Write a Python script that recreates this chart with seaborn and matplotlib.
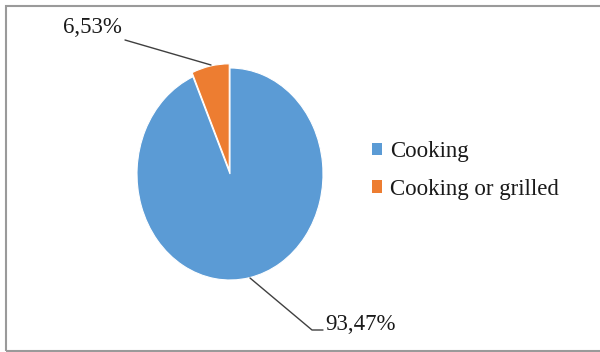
import matplotlib
matplotlib.use("Agg")
import matplotlib.pyplot as plt
import seaborn as sns
from matplotlib.patches import Patch, Rectangle

categories = ["Cooking", "Cooking or grilled"]
values = [93.47, 6.53]
labels = ["93,47%", "6,53%"]
colors = ["#5B9BD5", "#ED7D31"]

sns.set_theme(style="white")
plt.rcParams["font.family"] = ["Liberation Serif", "DejaVu Serif"]

W, H = 600, 352
fig = plt.figure(figsize=(6.0, 3.52), dpi=100)
fig.patch.set_facecolor("white")

# axes geometry (pixels): pie center (230,174), radius 93 px x 106 px
cx, cy, rx, ry = 230, 174, 93, 106
lim = 1.1
aw, ah = 2 * lim * rx, 2 * lim * ry
ax = fig.add_axes([(cx - aw / 2) / W, (H - cy - ah / 2) / H, aw / W, ah / H])
wedges, _ = ax.pie(values, colors=colors, startangle=90, counterclock=False,
                   explode=[0, 0.04],
                   wedgeprops=dict(edgecolor="white", linewidth=0.8))
ax.set_aspect("auto")
ax.set_xlim(-lim, lim)
ax.set_ylim(-lim, lim)
ax.axis("off")

def px2d(x, y):
    return (x - cx) / rx, (cy - y) / ry

# leader lines + labels
# orange
x0, y0 = px2d(211, 65)
x1, y1 = px2d(125, 40)
ax.plot([x0, x1], [y0, y1], color="#404040", lw=1.0, clip_on=False)
tx, ty = px2d(122, 33)
ax.text(tx, ty, labels[1], ha="right", va="baseline", fontsize=16.5, color="#1a1a1a", clip_on=False)
# blue
x0, y0 = px2d(250, 278)
x1, y1 = px2d(312, 330)
x2, y2 = px2d(323, 330)
ax.plot([x0, x1, x2], [y0, y1, y2], color="#404040", lw=1.0, clip_on=False)
tx, ty = px2d(325, 330)
ax.text(tx, ty, labels[0], ha="left", va="baseline", fontsize=16.5, color="#1a1a1a", clip_on=False)

handles = [Patch(facecolor=c, edgecolor="none", label=l) for c, l in zip(colors, categories)]
fig.legend(handles=handles, loc="center left", bbox_to_anchor=(372 / W, 1 - 170.5 / H),
           frameon=False, fontsize=16.5, handlelength=0.45, handleheight=0.45,
           handletextpad=0.33, labelspacing=0.72, borderpad=0, borderaxespad=0,
           labelcolor="#1a1a1a")

# outer border
fig.patches.append(Rectangle((6 / W, 1 / H), 1.2, (345) / H, transform=fig.transFigure,
                             fill=False, edgecolor="#9a9a9a", linewidth=1.5))

fig.savefig("out.png", dpi=100, facecolor="white")
